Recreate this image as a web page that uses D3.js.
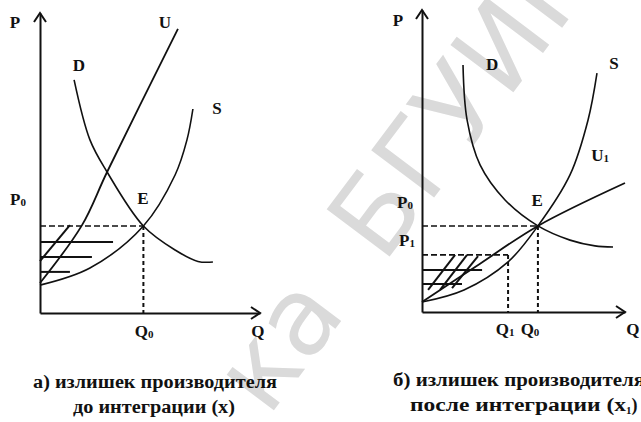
<!DOCTYPE html>
<html>
<head>
<meta charset="utf-8">
<script src="https://cdn.jsdelivr.net/npm/d3@7"></script>
<style>
  body { margin: 0; background: #fff; }
  svg { display: block; }
  text { font-family: 'Liberation Serif', 'Times New Roman', serif; font-weight: bold; fill: #111; }
  .wm text { font-family: 'DejaVu Sans', sans-serif; font-weight: normal; fill: #dadada; }
</style>
</head>
<body>
<svg id="chart" width="641" height="422"></svg>
<script>
// values, [Q, P] in chart units (0..10 on both axes)

// panel a) before integration
const demandA = [[1.55, 7.77], [2.27, 5.77], [3.05, 4.7], [4.7, 2.9], [6.14, 2.1], [7.18, 1.72], [7.86, 1.7]]
const supplyA = [[0, 0.93], [2.27, 1.5], [4.7, 2.9], [6.14, 4.6], [6.68, 5.77], [6.95, 6.8]]
const integA = [[0, 1.0], [1.91, 2.93], [3.05, 4.7], [6.27, 9.47]]
const hatchRowsA = [[2.37, 3.32], [1.87, 2.36], [1.37, 1.36]] // [P, Q where the stroke ends]
const hatchDiagA = [[[0, 1.73], [1.36, 2.93]]]
const equilA = {q0: 4.7, p0: 2.9}

// panel b) after integration
const demandB = [[2.02, 8.18], [2.22, 6.36], [2.86, 4.87], [4.09, 3.71], [5.71, 2.85], [7.29, 2.38], [8.52, 2.19], [9.41, 2.15]]
const supplyB = [[0, 0.33], [2.07, 0.73], [4.24, 1.66], [5.71, 2.85], [7.29, 4.54], [8.18, 6.36], [8.62, 7.91]]
const integB = [[0, 0.33], [2.86, 1.6], [5.71, 2.85], [10, 4.27]]
const hatchRowsB = [[1.39, 2.96], [0.93, 1.97]]
const hatchDiagB = [[[0.3, 0.73], [1.63, 1.89]], [[0.89, 0.73], [2.22, 1.89]], [[1.48, 0.79], [2.76, 1.85]]]
const equilB = {q0: 5.71, p0: 2.85, q1: 4.24, p1: 1.89}

const captionA = ['а) излишек производителя', 'до интеграции (х)']
const captionB = ['б) излишек производителя', 'после интеграции (x']

const svg = d3.select('#chart')

// library watermark of the scan
const wm = svg.append('g').attr('class', 'wm')
    .attr('transform', 'translate(268,418) rotate(-53)')
  .append('text').attr('font-size', 108).text('ка')
wm.append('tspan').attr('dx', 60).text('БГУИР')

function panel (opts) {
  const x = d3.scaleLinear().domain([0, 10]).range(opts.xr)
  const y = d3.scaleLinear().domain([0, 10]).range(opts.yr)
  const g = svg.append('g')

  const line = d3.line()
    .x(d => x(d[0]))
    .y(d => y(d[1]))
    .curve(d3.curveCatmullRom.alpha(0.5))

  // axes: plain domain lines with open arrowheads
  g.append('g')
      .attr('transform', 'translate(0,' + y(0) + ')')
      .call(d3.axisBottom(x).tickValues([]).tickSizeOuter(0))
  g.append('g')
      .attr('transform', 'translate(' + x(0) + ',0)')
      .call(d3.axisLeft(y).tickValues([]).tickSizeOuter(0))
  g.selectAll('.domain').attr('stroke', '#111').attr('stroke-width', 2)

  g.append('path')
      .attr('d', 'M' + (x(10) - 9) + ',' + (y(0) - 6) + 'L' + x(10) + ',' + y(0) + 'L' + (x(10) - 9) + ',' + (y(0) + 6))
      .attr('fill', 'none').attr('stroke', '#111').attr('stroke-width', 2)
  g.append('path')
      .attr('d', 'M' + (x(0) - 6) + ',' + (y(10) + 9) + 'L' + x(0) + ',' + y(10) + 'L' + (x(0) + 6) + ',' + (y(10) + 9))
      .attr('fill', 'none').attr('stroke', '#111').attr('stroke-width', 2)

  // dashed guides
  const guides = g.append('g').attr('fill', 'none').attr('stroke', '#111')
  opts.guides.forEach(d => {
    guides.append('line')
        .attr('x1', x(0)).attr('y1', y(d.p))
        .attr('x2', x(d.q)).attr('y2', y(d.p))
        .attr('stroke-width', 1.6).attr('stroke-dasharray', '6,3')
    guides.append('line')
        .attr('x1', x(d.q)).attr('y1', y(d.p))
        .attr('x2', x(d.q)).attr('y2', y(0))
        .attr('stroke-width', 2).attr('stroke-dasharray', '4,3')
  })

  // shading of the surplus
  g.selectAll('.hrow').data(opts.rows).enter().append('line')
      .attr('class', 'hrow')
      .attr('x1', x(0)).attr('x2', d => x(d[1]))
      .attr('y1', d => y(d[0])).attr('y2', d => y(d[0]))
      .attr('stroke', '#111').attr('stroke-width', 2)
  g.selectAll('.hdiag').data(opts.diags).enter().append('path')
      .attr('class', 'hdiag')
      .attr('d', d3.line().x(d => x(d[0])).y(d => y(d[1])))
      .attr('fill', 'none').attr('stroke', '#111').attr('stroke-width', 2)

  // curves
  g.selectAll('.curve').data(opts.curves).enter().append('path')
      .attr('class', 'curve')
      .attr('d', d => line(d.pts))
      .attr('fill', 'none').attr('stroke', '#111')
      .attr('stroke-width', d => d.w)

  // labels
  const lab = g.selectAll('.lab').data(opts.labels).enter().append('text')
      .attr('class', 'lab')
      .attr('x', d => x(d[1])).attr('y', d => y(d[2]))
      .attr('text-anchor', 'middle')
      .attr('font-size', 17)
      .text(d => d[0])
  lab.filter(d => d[3]).append('tspan')
      .attr('font-size', 11).attr('dy', 1)
      .text(d => d[3])
}

panel({
  xr: [40, 260],
  yr: [313, 13],
  curves: [{pts: demandA, w: 1.6}, {pts: supplyA, w: 1.6}, {pts: integA, w: 1.8}],
  rows: hatchRowsA,
  diags: hatchDiagA,
  guides: [{q: equilA.q0, p: equilA.p0}],
  labels: [['P', -1.14, 9.5], ['U', 5.68, 9.5], ['D', 1.77, 8.07], ['S', 8.05, 6.63],
           ['P', -1.0, 3.6, '0'], ['E', 4.68, 3.63], ['Q', 4.73, -0.8, '0'], ['Q', 9.9, -0.8]]
})

panel({
  xr: [422, 625],
  yr: [312, 10],
  curves: [{pts: demandB, w: 1.6}, {pts: supplyB, w: 1.6}, {pts: integB, w: 1.8}],
  rows: hatchRowsB,
  diags: hatchDiagB,
  guides: [{q: equilB.q0, p: equilB.p0}, {q: equilB.q1, p: equilB.p1}],
  labels: [['P', -1.18, 9.47], ['D', 3.45, 8.01], ['S', 9.46, 8.05], ['U', 8.77, 5.0, '1'],
           ['P', -0.84, 3.44, '0'], ['E', 5.67, 3.51], ['P', -0.74, 2.19, '1'],
           ['Q', 4.09, -0.76, '1'], ['Q', 5.32, -0.76, '0'], ['Q', 10.39, -0.76]]
})

// captions under the panels
const cap = svg.append('g').attr('font-size', 18)
cap.append('text').attr('x', 155).attr('y', 388).attr('text-anchor', 'middle')
    .attr('textLength', 244).attr('lengthAdjust', 'spacingAndGlyphs').text(captionA[0])
cap.append('text').attr('x', 154).attr('y', 413).attr('text-anchor', 'middle')
    .attr('textLength', 162).attr('lengthAdjust', 'spacingAndGlyphs').text(captionA[1])
cap.append('text').attr('x', 393).attr('y', 386)
    .attr('textLength', 252).attr('lengthAdjust', 'spacingAndGlyphs').text(captionB[0])
const c2 = cap.append('text').attr('x', 410).attr('y', 411)
c2.append('tspan').attr('textLength', 216).attr('lengthAdjust', 'spacingAndGlyphs').text(captionB[1])
c2.append('tspan').attr('font-size', 11).attr('dy', 3).text('1')
c2.append('tspan').attr('dy', -3).text(')')
</script>
</body>
</html>
